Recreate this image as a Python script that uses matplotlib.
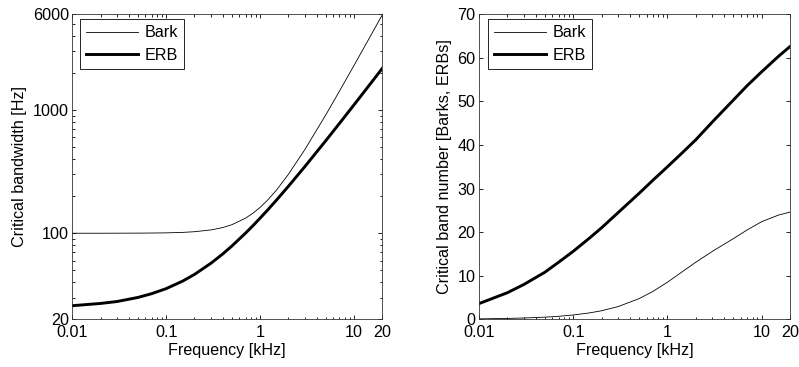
import matplotlib
matplotlib.use("Agg")
import matplotlib.pyplot as plt
from matplotlib.ticker import FixedLocator, FixedFormatter, LogLocator, NullFormatter

plt.rcParams['font.family'] = ['Liberation Sans', 'DejaVu Sans']
FS = 11.6
plt.rcParams['font.size'] = FS

# ---- data ----
freq_left = [0.01, 0.02, 0.03, 0.05, 0.07, 0.1, 0.15, 0.2, 0.3, 0.4, 0.5, 0.7, 0.85,
             1, 1.2, 1.5, 2, 3, 5, 7, 10, 15, 20]
bark_bw = [100.0, 100.0, 100.1, 100.2, 100.4, 100.7, 101.6, 102.9, 106.4, 111.2, 117.3,
           132.6, 146.5, 162.2, 185.7, 225, 301, 479, 914, 1427, 2306, 4005, 5941]
erb_bw = [25.8, 26.9, 27.9, 30.1, 32.3, 35.5, 40.9, 46.3, 57.1, 67.9, 78.7, 100.3, 116.4,
          132.6, 154.2, 186.6, 240.6, 348.5, 564.4, 780.3, 1104, 1644, 2184]

freq_right = [0.01, 0.02, 0.03, 0.05, 0.07, 0.1, 0.15, 0.2, 0.3, 0.5, 0.7, 1, 1.5, 2,
              3, 5, 7, 10, 15, 20]
bark_num = [0.10, 0.20, 0.30, 0.49, 0.69, 0.99, 1.48, 1.96, 2.92, 4.74, 6.39, 8.51,
            11.2, 13.1, 15.6, 18.5, 20.5, 22.4, 23.9, 24.6]
erb_num = [3.6, 6.1, 8.0, 10.8, 13.1, 15.6, 18.7, 21.0, 24.5, 28.9, 31.9, 35.0, 38.6,
           41.2, 45.3, 50.3, 53.6, 56.8, 60.3, 62.6]

x_ticks = [0.01, 0.1, 1, 10, 20]
x_ticklabels = ['0.01', '0.1', '1', '10', '20']
yl_ticks = [20, 100, 1000, 6000]
yl_ticklabels = ['20', '100', '1000', '6000']
yr_ticks = [0, 10, 20, 30, 40, 50, 60, 70]
legend_labels = ['Bark', 'ERB']

fig = plt.figure(figsize=(7.99, 3.67), dpi=100)
axL = fig.add_axes([72.3 / 799, 1 - 319.3 / 367, 310 / 799, 305 / 367])
axR = fig.add_axes([479 / 799, 1 - 319.3 / 367, 311 / 799, 305 / 367])


def style_x(ax):
    ax.set_xscale('log')
    ax.set_xlim(0.01, 20)
    ax.xaxis.set_major_locator(FixedLocator(x_ticks))
    ax.xaxis.set_major_formatter(FixedFormatter(x_ticklabels))
    ax.xaxis.set_minor_locator(LogLocator(base=10, subs=range(2, 10), numticks=20))
    ax.xaxis.set_minor_formatter(NullFormatter())
    ax.set_xlabel('Frequency [kHz]', labelpad=2)
    ax.tick_params(which='both', direction='in', top=True, right=True, width=0.6,
                   colors='black', labelsize=FS)
    ax.tick_params(which='major', length=3.0)
    ax.tick_params(which='minor', length=1.8)
    ax.tick_params(axis='x', which='major', pad=4)
    ax.tick_params(axis='y', which='major', pad=2.5)
    for s in ax.spines.values():
        s.set_linewidth(0.6)
        s.set_color('#333333')


# Left
axL.plot(freq_left, bark_bw, color='black', lw=0.6, label=legend_labels[0])
axL.plot(freq_left, erb_bw, color='black', lw=2.1, label=legend_labels[1])
style_x(axL)
axL.set_yscale('log')
axL.set_ylim(20, 6000)
axL.yaxis.set_major_locator(FixedLocator(yl_ticks))
axL.yaxis.set_major_formatter(FixedFormatter(yl_ticklabels))
axL.yaxis.set_minor_locator(LogLocator(base=10, subs=range(2, 10), numticks=20))
axL.yaxis.set_minor_formatter(NullFormatter())
axL.set_ylabel('Critical bandwidth [Hz]', labelpad=4)

# Right
axR.plot(freq_right, bark_num, color='black', lw=0.6, label=legend_labels[0])
axR.plot(freq_right, erb_num, color='black', lw=2.1, label=legend_labels[1])
style_x(axR)
axR.set_ylim(0, 70)
axR.set_yticks(yr_ticks)
axR.set_ylabel('Critical band number [Barks, ERBs]', labelpad=4)

for ax, off in ((axL, 7.7), (axR, 8.7)):
    leg = ax.legend(loc='upper left', bbox_to_anchor=(off / 310, 1 - 4.7 / 305),
                    borderaxespad=0, fancybox=False, framealpha=1, edgecolor='black',
                    handlelength=3.2, handletextpad=0.4, labelspacing=0.45,
                    borderpad=0.4, fontsize=FS)
    leg.get_frame().set_linewidth(0.6)

fig.savefig('out.png', dpi=100)
